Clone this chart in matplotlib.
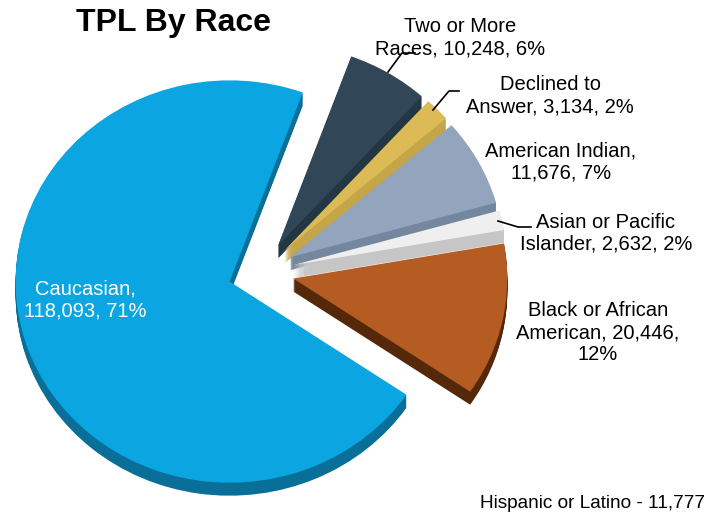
import matplotlib
matplotlib.use('Agg')
import matplotlib.pyplot as plt

plt.rcParams['font.family'] = ['Liberation Sans', 'DejaVu Sans']

# data, counter clockwise from the start angle
races = ['Caucasian', 'Black or African American', 'Asian or Pacific Islander',
         'American Indian', 'Declined to Answer', 'Two or More Races']
counts = [118093, 20446, 2632, 11676, 3134, 10248]
top_colors = ['#0ba6e2', '#b45c22', '#efefef', '#93a4bd', '#dcbb57', '#314757']
wall_colors = ['#0a6f98', '#552809', '#c6c6c6', '#75869f', '#c4a548', '#233644']
labels = ['Caucasian,\n118,093, 71%', 'Black or African\nAmerican, 20,446,\n12%',
          'Asian or Pacific\nIslander, 2,632, 2%', 'American Indian,\n11,676, 7%',
          'Declined to\nAnswer, 3,134, 2%', 'Two or More\nRaces, 10,248, 6%']
label_pos = [(85, 300), (598, 333), (606, 233), (561, 162), (550, 96), (460, 38)]
label_col = ['white', 'black', 'black', 'black', 'black', 'black']
footnote = 'Hispanic or Latino - 11,777'

W, H = 711, 516
YSCALE = 0.94
RADIUS = 214
EXPLODE = 33  # in data units, pie does not scale it with the radius
START = 70
DEPTH = 13
CX, CY = 261, 272
# slices drawn from the back to the front
draw_order = [5, 4, 3, 2, 1, 0]

fig = plt.figure(figsize=(W / 100, H / 100), dpi=100)
ax = fig.add_axes([0, 0, 1, 1])


def draw_pie(depth, colors, base):
    wedges, _ = ax.pie(counts, explode=[EXPLODE] * len(counts), startangle=START,
                       counterclock=True, colors=colors, radius=RADIUS,
                       center=(CX, (H - CY - depth) / YSCALE), frame=False)
    for i, w in enumerate(wedges):
        w.set_zorder(draw_order.index(i) * 100 + base)
        w.set_linewidth(0)


for d in range(DEPTH, 0, -1):
    draw_pie(d, wall_colors, DEPTH - d)
draw_pie(0, top_colors, 50)

ax.set_aspect('auto')
ax.set_xlim(0, W)
ax.set_ylim(0, H / YSCALE)
ax.axis('off')

# overlay in image pixels for the texts and leader lines
ov = fig.add_axes([0, 0, 1, 1], facecolor='none')
ov.set_xlim(0, W)
ov.set_ylim(H, 0)
ov.axis('off')

ov.text(173, 23, 'TPL By Race', fontsize=23, fontweight='bold', ha='center', va='center')
for (x, y), t, c in zip(label_pos, labels, label_col):
    ov.text(x, y, t, color=c, fontsize=14.5, ha='center', va='center', linespacing=1.2)
ov.text(705, 503, footnote, fontsize=13.7, ha='right', va='center')

ov.plot([388, 402, 415], [72, 53, 53], color='black', lw=1.2)
ov.plot([433, 449, 459], [110, 91, 91], color='black', lw=1.2)
ov.plot([498, 518, 531], [221, 227, 227], color='black', lw=1.2)

fig.savefig('out.png', dpi=100)
